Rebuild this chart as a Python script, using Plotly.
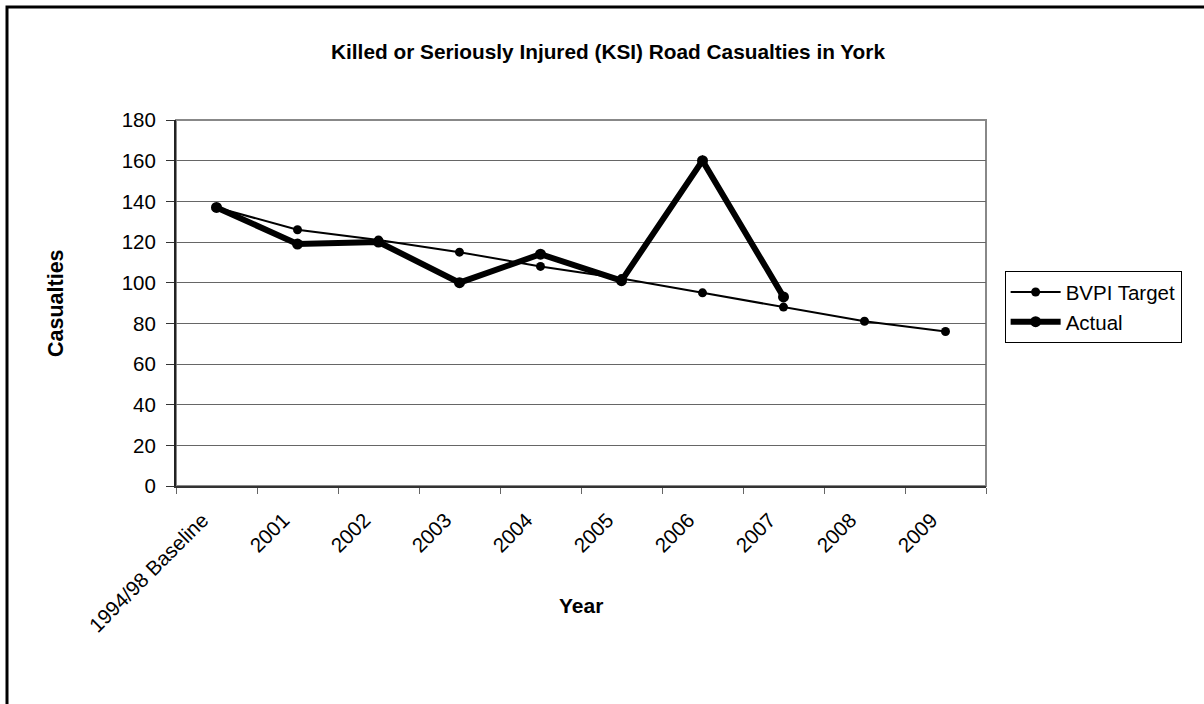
import plotly.graph_objects as go

categories = ["1994/98 Baseline", "2001", "2002", "2003", "2004", "2005", "2006", "2007", "2008", "2009"]
bvpi_target = [137, 126, 121, 115, 108, 102, 95, 88, 81, 76]
actual = [137, 119, 120, 100, 114, 101, 160, 93]
y_ticks = [0, 20, 40, 60, 80, 100, 120, 140, 160, 180]

FONT = "Liberation Sans, Arial, sans-serif"

fig = go.Figure()
fig.add_trace(go.Scatter(
    x=categories, y=bvpi_target, name="BVPI Target", mode="lines+markers",
    line=dict(color="black", width=2), marker=dict(color="black", size=9),
))
fig.add_trace(go.Scatter(
    x=categories[:len(actual)], y=actual, name="Actual", mode="lines+markers",
    line=dict(color="black", width=6), marker=dict(color="black", size=11),
))

fig.update_layout(
    width=1204, height=704,
    margin=dict(l=176, r=218, t=120, b=218),
    paper_bgcolor="white", plot_bgcolor="white",
    font=dict(family=FONT, color="black", size=20),
    title=dict(text="<b>Killed or Seriously Injured (KSI) Road Casualties in York</b>",
               x=0.505, xanchor="center", y=1 - 52 / 704, yanchor="middle",
               font=dict(size=20.8, family=FONT)),
    showlegend=True,
    legend=dict(x=1.023, xanchor="left", y=0.587, yanchor="top",
                bordercolor="black", borderwidth=1, bgcolor="white",
                font=dict(size=20.5, family=FONT), tracegroupgap=0,
                itemwidth=50),
    shapes=[
        dict(type="rect", xref="paper", yref="paper", x0=0, x1=1, y0=0, y1=1,
             line=dict(color="#888888", width=2), layer="below"),
        dict(type="rect", xref="paper", yref="paper",
             x0=-(176 - 7) / 810, x1=1.5, y0=-0.8, y1=1 + (120 - 7) / 366,
             line=dict(color="black", width=3), layer="below"),
    ],
    annotations=[
        dict(text="<b>Year</b>", xref="paper", yref="paper", x=0.5, y=-(605 - 486) / 366,
             xanchor="center", yanchor="middle", showarrow=False,
             font=dict(size=21, family=FONT)),
        dict(text="<b>Casualties</b>", xref="paper", yref="paper", x=-(176 - 56) / 810, y=0.5,
             xanchor="center", yanchor="middle", showarrow=False, textangle=-90,
             font=dict(size=21.5, family=FONT)),
    ],
)

fig.update_xaxes(
    type="category", categoryorder="array", categoryarray=categories,
    range=[-0.5, len(categories) - 0.5],
    tickangle=-45, tickson="boundaries", ticks="outside", ticklen=6,
    tickcolor="#666666", showgrid=False, showline=True, linecolor="#333333",
    linewidth=2, tickfont=dict(size=20.5, family=FONT),
    ticklabelstandoff=12, ticklabelshift=-14,
    zeroline=False,
)
fig.update_yaxes(
    range=[0, 180], tickvals=y_ticks, ticks="outside", ticklen=8,
    tickcolor="#333333", showgrid=True, gridcolor="#666666", gridwidth=1,
    showline=True, linecolor="#222222", linewidth=2, zeroline=False,
    tickfont=dict(size=20.5, family=FONT), ticklabelstandoff=6,
)

fig.write_html("out.html")
